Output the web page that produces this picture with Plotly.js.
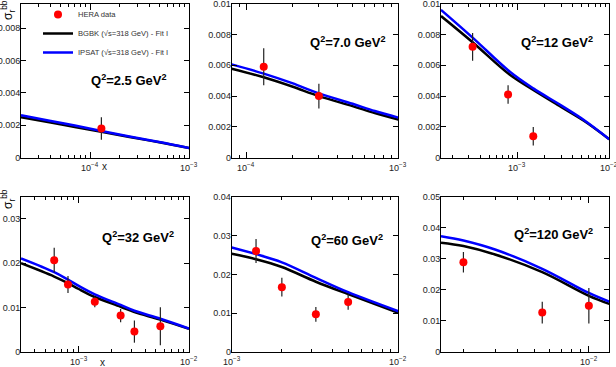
<!DOCTYPE html>
<html>
<head>
<meta charset="utf-8">
<script src="https://cdn.plot.ly/plotly-3.0.1.min.js"></script>
<style>
  html, body { margin:0; padding:0; background:#fff; }
  #chart { width:616px; height:367px; }
</style>
</head>
<body>
<div id="chart"></div>
<script>
// Q^2 bins (GeV^2), one per panel
const q2Labels = ['2.5', '7.0', '12', '32', '60', '120'];

// HERA beauty reduced cross sections
const heraX = [
  [1.3e-4],
  [1.3e-4, 3.0e-4],
  [3.3e-4, 8.0e-4, 1.5e-3],
  [6.0e-4, 8.0e-4, 1.4e-3, 2.4e-3, 3.2e-3, 5.5e-3],
  [1.4e-3, 2.0e-3, 3.2e-3, 5.0e-3],
  [2.0e-3, 5.5e-3, 1.0e-2]
];
const heraY = [
  [0.0018],
  [0.0059, 0.0040],
  [0.0072, 0.0041, 0.0014],
  [0.0207, 0.0152, 0.0113, 0.0082, 0.0046, 0.0058],
  [0.0260, 0.0167, 0.0097, 0.0129],
  [0.0289, 0.0127, 0.0149]
];
const heraErr = [
  [0.0007],
  [0.0012, 0.0008],
  [0.0009, 0.0006, 0.0006],
  [0.0028, 0.0019, 0.0012, 0.0015, 0.0025, 0.0043],
  [0.0031, 0.0024, 0.0019, 0.0020],
  [0.0033, 0.0035, 0.0057]
];

// model curves, sampled in x
const curveX = [
  [2e-5, 4e-5, 7e-5, 1.3e-4, 2.5e-4, 5e-4, 1e-3],
  [8e-5, 1.3e-4, 2e-4, 3e-4, 5e-4, 7e-4, 1e-3],
  [1.5e-4, 3.3e-4, 8.3e-4, 1.5e-3, 3e-3, 5.3e-3, 1e-2],
  [3e-4, 6e-4, 8e-4, 1e-3, 1.4e-3, 2.4e-3, 3.2e-3, 5.5e-3, 1e-2],
  [1e-3, 1.4e-3, 2e-3, 3.2e-3, 5e-3, 1e-2],
  [1.5e-3, 2e-3, 3e-3, 5.5e-3, 1e-2, 1.3e-2]
];
const bgbkY = [
  [0.00250, 0.00217, 0.00190, 0.00160, 0.00128, 0.00095, 0.00060],
  [0.00578, 0.00522, 0.00462, 0.00400, 0.00335, 0.00290, 0.00247],
  [0.0092, 0.0075, 0.0054, 0.0044, 0.0033, 0.0024, 0.0012],
  [0.0200, 0.0170, 0.0155, 0.0142, 0.0124, 0.0102, 0.0090, 0.0073, 0.0052],
  [0.0253, 0.0239, 0.0219, 0.0181, 0.0149, 0.0101],
  [0.0352, 0.0341, 0.0314, 0.0257, 0.0181, 0.0155]
];
const ipsatY = [
  [0.00262, 0.00227, 0.00198, 0.00165, 0.00131, 0.00097, 0.00060],
  [0.00606, 0.00546, 0.00484, 0.00418, 0.00350, 0.00303, 0.00260],
  [0.0096, 0.0078, 0.0056, 0.0045, 0.0034, 0.00245, 0.0012],
  [0.0211, 0.0180, 0.0163, 0.0149, 0.0130, 0.0106, 0.0093, 0.0075, 0.0053],
  [0.0269, 0.0252, 0.0231, 0.0191, 0.0154, 0.0105],
  [0.0373, 0.0359, 0.0330, 0.0268, 0.0190, 0.0162]
];

const xRanges = [[2e-5,1e-3],[8e-5,1e-3],[1.5e-4,1e-2],[3e-4,1e-2],[1e-3,1e-2],[1.5e-3,1.3e-2]];
const yRanges = [[0,0.0095],[0,0.01],[0,0.01],[0,0.035],[0,0.04],[0,0.05]];
const yDtick = [0.002,0.002,0.002,0.01,0.01,0.01];

// frame positions in pixels
const W = 616, H = 367;
const colL = [21, 231.7, 441], colR = [189, 398.3, 609.3];
const rowT = [3.7, 196.7], rowB = [157.7, 352];
const labelPos = [[128.7,80],[347.8,41.7],[557,42.3],[137.7,236.7],[346.7,240],[553.7,234.3]];

const FONT = 'Liberation Sans, Arial, Helvetica, sans-serif';

// decade and sub-decade tick positions inside a log range
function logTicks(lo, hi){
  const major = [], minor = [];
  for(let p=Math.floor(Math.log10(lo)); p<=Math.ceil(Math.log10(hi)); p++){
    for(let m=1;m<=9;m++){
      const v = m*Math.pow(10,p);
      if(v < lo*0.999 || v > hi*1.001) continue;
      if(m===1) major.push(p); else minor.push(v);
    }
  }
  return {major, minor};
}
function powLabel(p){
  return '10<sup>' + (p<0 ? '\u2212' : '') + Math.abs(p) + '</sup>';
}

const traces = [];
const layout = {
  width: W, height: H,
  margin: {l:0, r:0, t:0, b:0},
  paper_bgcolor: '#fff', plot_bgcolor: 'rgba(0,0,0,0)',
  font: {family: FONT, color: '#222', size: 9},
  showlegend: true,
  legend: {x: 38/W, y: 1, xanchor: 'left', yanchor: 'top',
           bgcolor: 'rgba(0,0,0,0)', borderwidth: 0, itemwidth: 30,
           font: {size: 7.6, color: '#333', family: FONT}},
  annotations: [],
  shapes: []
};

for(let i=0;i<6;i++){
  const c = i%3, r = Math.floor(i/3);
  const sfx = i===0 ? '' : String(i+1);
  const xa = 'x'+sfx, ya = 'y'+sfx;
  traces.push({x: curveX[i], y: bgbkY[i], xaxis: xa, yaxis: ya, mode:'lines',
    line:{color:'#000', width:2.5, shape:'spline'}, name:'BGBK (√s=318 GeV) - Fit I',
    showlegend: i===0, legendrank: 2, hoverinfo:'skip'});
  traces.push({x: curveX[i], y: ipsatY[i], xaxis: xa, yaxis: ya, mode:'lines',
    line:{color:'#0000ff', width:2.5, shape:'spline'}, name:'IPSAT (√s=318 GeV) - Fit I',
    showlegend: i===0, legendrank: 3, hoverinfo:'skip'});
  traces.push({x: heraX[i], y: heraY[i], xaxis: xa, yaxis: ya, mode:'markers',
    marker:{color:'#ff0000', size:8},
    error_y:{type:'data', array: heraErr[i], width:0, thickness:1.2, color:'#222'},
    name:'HERA data', showlegend: i===0, legendrank: 1, cliponaxis:false});

  const lr = xRanges[i].map(Math.log10);
  const lt = logTicks(xRanges[i][0], xRanges[i][1]);
  layout['xaxis'+sfx] = {
    type:'log', anchor: ya,
    range: lr,
    domain: [colL[c]/W, colR[c]/W],
    showline:true, linecolor:'#000', linewidth:1, mirror:'allticks',
    tickmode:'array', tickvals: lt.major.map(p=>Math.pow(10,p)), showticklabels:false,
    ticks:'inside', ticklen:6, tickcolor:'#000',
    showgrid:false, zeroline:false,
    minor:{tickmode:'array', tickvals: lt.minor, ticks:'inside', ticklen:3,
           tickcolor:'#000', showgrid:false}
  };
  // decade labels under each frame, at the decade's place along the axis
  lt.major.forEach(p=>{
    const f = Math.min(1, Math.max(0, (p - lr[0]) / (lr[1] - lr[0])));
    const px = colL[c] + f*(colR[c]-colL[c]);
    layout.annotations.push({xref:'paper', yref:'paper', x: px/W, y: 1 - (rowB[r]+1)/H,
      xanchor:'center', yanchor:'top', showarrow:false,
      text: powLabel(p), font:{family:FONT, size:9, color:'#222'}});
  });
  layout['yaxis'+sfx] = {
    anchor: xa, range: [yRanges[i][0], yRanges[i][1] + 1e-9], dtick: yDtick[i], tick0:0,
    domain: [1 - rowB[r]/H, 1 - rowT[r]/H],
    showline:true, linecolor:'#000', linewidth:1, mirror:'allticks',
    ticks:'inside', ticklen:5, tickcolor:'#000', ticklabelstandoff:-2,
    ticklabeloverflow:'allow',
    showgrid:false, zeroline:false, tickfont:{size:9, color:'#222'}
  };
  layout.annotations.push({xref:'paper', yref:'paper', x: labelPos[i][0]/W, y: 1 - labelPos[i][1]/H,
    xanchor:'center', yanchor:'middle', showarrow:false,
    text:'Q<sup>2</sup>='+q2Labels[i]+' GeV<sup>2</sup>',
    font:{family:FONT, size:13, color:'#000', weight:'bold'}});
}

// axis titles on the left column
[[8,10],[8,199]].forEach(p=>{
  layout.annotations.push({xref:'paper', yref:'paper', x:p[0]/W, y:1-p[1]/H,
    xanchor:'center', yanchor:'middle', showarrow:false, textangle:-90,
    text:'σ<sub>r</sub><sup>bb</sup>', font:{family:FONT, size:12, color:'#000'}});
});
[[104.3,166],[102.7,362.7]].forEach(p=>{
  layout.annotations.push({xref:'paper', yref:'paper', x:p[0]/W, y:1-p[1]/H,
    xanchor:'center', yanchor:'middle', showarrow:false,
    text:'x', font:{family:FONT, size:10, color:'#222'}});
});

Plotly.newPlot('chart', traces, layout, {displayModeBar:false, staticPlot:true});
</script>
</body>
</html>
